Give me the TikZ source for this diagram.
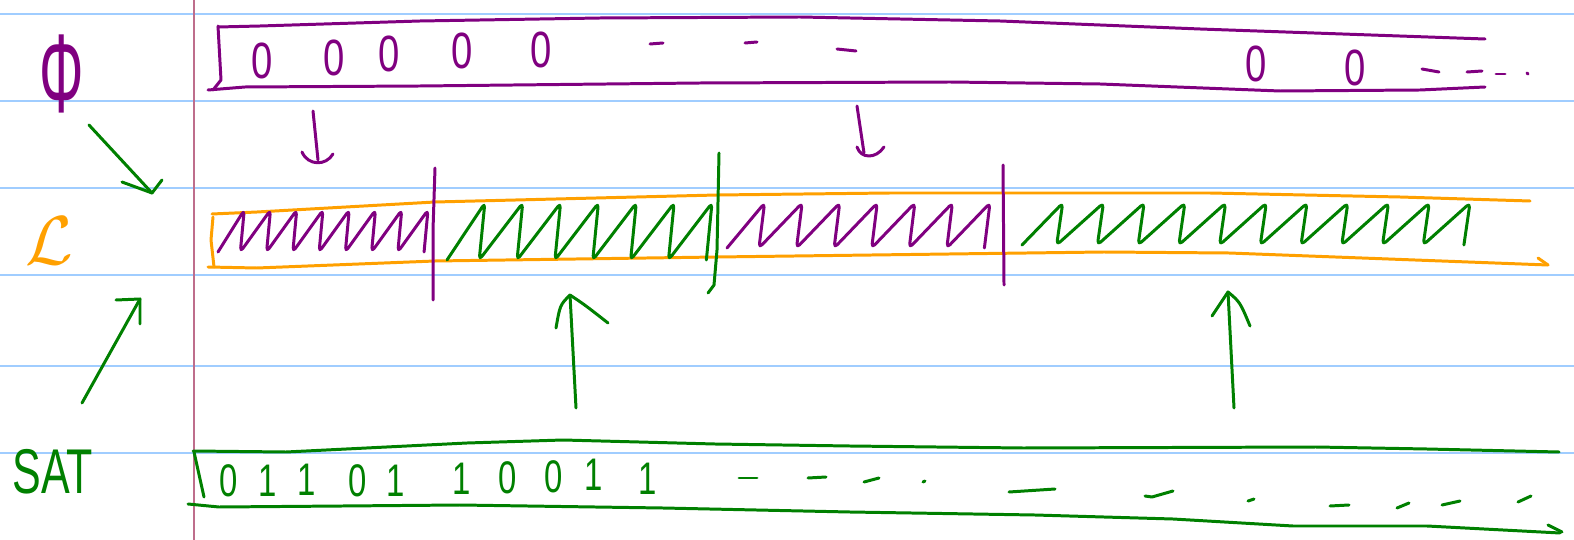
\documentclass[tikz,border=0pt]{standalone}
\usepackage{fontspec}
\setmainfont{Liberation Sans}
\usetikzlibrary{calc}
\definecolor{purp}{RGB}{128,0,128}
\definecolor{grn}{RGB}{0,128,0}
\definecolor{orng}{RGB}{255,160,0}
\definecolor{rulec}{RGB}{160,205,255}
\definecolor{marg}{RGB}{190,110,140}
\newcommand{\zigpath}[6]{\draw[#1, rounded corners=2.5pt] (#2,#6) \foreach \i in {1,...,#4}{ -- ({#2+\i*(#3-#2)/#4},#5) -- ({#2+(\i-0.15)*(#3-#2)/#4},#6)};}
\begin{document}
\begin{tikzpicture}[x=0.02cm,y=-0.02cm,
  pen/.style={line width=1.7pt, line cap=round, line join=round},
  pp/.style={pen, draw=purp},
  gp/.style={pen, draw=grn},
  op/.style={pen, draw=orng},
  pdig/.style={text=purp, font=\fontsize{29}{29}\selectfont, inner sep=0pt, xscale=0.75},
  gdig/.style={text=grn, font=\fontsize{26}{26}\selectfont, inner sep=0pt, xscale=0.72}]
\useasboundingbox (0,0) rectangle (1574,540);
\fill[white] (0,0) rectangle (1574,540);
\foreach \yy in {14,101,188,275,366,453} \draw[rulec, line width=1.1pt] (0,\yy) -- (1574,\yy);
\draw[marg, line width=1pt] (194,0) -- (194,540);

% left labels
\node[text=purp, font=\fontsize{44}{44}\selectfont, inner sep=0pt, xscale=0.72, yscale=1.45] (phi) at (62,74) {Φ};
\node[text=orng, font=\huge, inner sep=0pt, scale=1.9] (lang) at (49,241) {$\mathcal{L}$};
\node[text=grn, font=\fontsize{36}{36}\selectfont, inner sep=0pt, xscale=0.68] (sat) at (53,472) {SAT};

% arrows from labels
\coordinate (d1a) at (89,125); \coordinate (d1b) at (152,193);
\draw[gp] (d1a) -- (d1b);
\draw[gp] ($(d1b)+(-30,-11)$) -- (d1b) -- ($(d1b)+(10,-13)$);
\coordinate (u1a) at (82,403); \coordinate (u1b) at (140,299);
\draw[gp] (u1a) -- (u1b);
\draw[gp] ($(u1b)+(-24,1)$) -- (u1b) -- ($(u1b)+(0,25)$);

% top purple box
\draw[pp] (218,26) -- (221,80) -- (213,90);
\draw[pp] (218,27) -- (260,26) -- (420,21) -- (600,18) -- (800,17) -- (1000,21) -- (1200,29) -- (1485,39);
\draw[pp] (208,90) -- (245,87) -- (420,86) -- (700,83) -- (950,82) -- (1100,84) -- (1280,91) -- (1420,90) -- (1485,87);
\node[pdig] (t1) at (262,61) {0};
\node[pdig] (t2) at (334,58) {0};
\node[pdig] (t3) at (389,54) {0};
\node[pdig] (t4) at (462,51) {0};
\node[pdig] (t5) at (541,50) {0};
\node[pdig] (t6) at (1256,64) {0};
\node[pdig] (t7) at (1355,68) {0};
\draw[pp] (650,44) -- (663,43);
\draw[pp] (745,43) -- (757,42);
\draw[pp] (837,49) -- (856,51);
\draw[pp] (1422,69) -- (1439,72);
\draw[pp] (1467,72) -- (1482,71);
\draw[pp] (1496,74) -- (1505,74);
\draw[pp] (1527,73) -- (1528,74);

% purple down arrows
\coordinate (pd1a) at (313,111); \coordinate (pd1b) at (318,160);
\draw[pp] (pd1a) -- (pd1b);
\draw[pp] ($(pd1b)+(-16,-8)$) .. controls ($(pd1b)+(-10,6)$) and ($(pd1b)+(8,6)$) .. ($(pd1b)+(15,-6)$);
\coordinate (pd2a) at (857,106); \coordinate (pd2b) at (864,153);
\draw[pp] (pd2a) -- (pd2b);
\draw[pp] ($(pd2b)+(-7,-6)$) .. controls ($(pd2b)+(-3,6)$) and ($(pd2b)+(12,6)$) .. ($(pd2b)+(20,-6)$);

% orange box
\draw[op] (212,214) -- (257,212) -- (435,202) -- (717,195) -- (890,193) -- (1210,193) -- (1400,197) -- (1530,201);
\draw[op] (213,217) -- (211,240) -- (214,267);
\draw[op] (208,267) -- (257,268) -- (435,261) -- (717,257) -- (1104,252) -- (1229,253) -- (1548,265);
\draw[op] (1538,258) -- (1548,265);

% dividers
\draw[pp] (435,168) -- (433,230) -- (433,300);
\draw[gp] (719,153) -- (717,250) -- (714,285) -- (708,293);
\draw[pp] (1003,165) -- (1004,285);

% zigzags
\zigpath{pp}{218}{428}{8}{210}{252}
\zigpath{gp}{447}{712}{7}{203}{260}
\zigpath{pp}{727}{990}{7}{203}{248}
\zigpath{gp}{1022}{1470}{11}{203}{245}

% green up arrows
\coordinate (gu1a) at (576,408); \coordinate (gu1b) at (570,295);
\draw[gp] (gu1a) -- (gu1b);
\draw[gp] ($(gu1b)+(-14,33)$) .. controls ($(gu1b)+(-10,10)$) .. (gu1b) .. controls ($(gu1b)+(15,10)$) .. ($(gu1b)+(38,28)$);
\coordinate (gu2a) at (1234,408); \coordinate (gu2b) at (1228,292);
\draw[gp] (gu2a) -- (gu2b);
\draw[gp] ($(gu2b)+(-16,24)$) -- (gu2b) .. controls ($(gu2b)+(12,10)$) .. ($(gu2b)+(22,34)$);

% bottom green box
\draw[gp] (193,451) -- (286,452) -- (467,443) -- (563,440) -- (715,444) -- (850,446) -- (1023,448) -- (1316,447) -- (1427,449) -- (1559,452);
\draw[gp] (194,452) -- (204,497);
\draw[gp] (188,504) -- (219,507) -- (342,506) -- (460,505) -- (663,508) -- (850,512) -- (1035,515) -- (1173,519) -- (1293,526) -- (1427,526) -- (1560,533);
\draw[gp] (1548,525) -- (1562,532);
\node[gdig] (g1) at (229,481) {0};
\node[gdig] (g2) at (268,481) {1};
\node[gdig] (g3) at (307,480) {1};
\node[gdig] (g4) at (358,481) {0};
\node[gdig] (g5) at (396,481) {1};
\node[gdig] (g6) at (462,479) {1};
\node[gdig] (g7) at (508,478) {0};
\node[gdig] (g8) at (554,477) {0};
\node[gdig] (g9) at (594,475) {1};
\node[gdig] (g10) at (648,479) {1};
\draw[gp] (739,478) -- (757,478);
\draw[gp] (808,478) -- (826,477);
\draw[gp] (864,482) -- (879,478);
\draw[gp] (923,482) -- (925,481);
\draw[gp] (1009,492) -- (1055,489);
\draw[gp] (1145,496) -- (1152,497) -- (1173,491);
\draw[gp] (1248,501) -- (1254,499);
\draw[gp] (1330,506) -- (1349,505);
\draw[gp] (1397,508) -- (1409,503);
\draw[gp] (1442,505) -- (1460,501);
\draw[gp] (1518,502) -- (1531,496);
\end{tikzpicture}
\end{document}
